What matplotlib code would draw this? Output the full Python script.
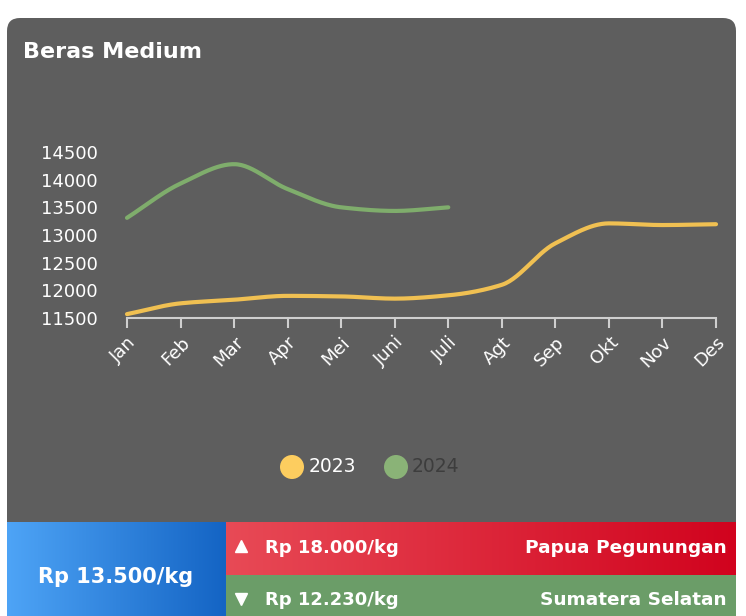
import numpy as np
import matplotlib
matplotlib.use("Agg")
import matplotlib.pyplot as plt
from matplotlib.patches import FancyBboxPatch, Rectangle, Circle

plt.rcParams['font.family'] = ['DejaVu Sans']

# data
bulan = ["Jan", "Feb", "Mar", "Apr", "Mei", "Juni", "Juli", "Agt", "Sep", "Okt", "Nov", "Des"]
harga_2023 = [11570, 11765, 11830, 11900, 11890, 11850, 11910, 12100, 12850, 13210, 13180, 13195]
harga_2024 = [13310, 13930, 14280, 13830, 13500, 13435, 13500]
y_ticks = [11500, 12000, 12500, 13000, 13500, 14000, 14500]

judul = "Beras Medium"
harga_nasional = "Rp 13.500/kg"
harga_tertinggi = "Rp 18.000/kg"
prov_tertinggi = "Papua Pegunungan"
harga_terendah = "Rp 12.230/kg"
prov_terendah = "Sumatera Selatan"

W, H = 746, 616


def monotone(x, y, n=30):
    # kurva halus monoton (Fritsch-Carlson) seperti chart aslinya
    x = np.asarray(x, float)
    y = np.asarray(y, float)
    h = np.diff(x)
    d = np.diff(y) / h
    m = np.zeros_like(y)
    m[0], m[-1] = d[0], d[-1]
    for i in range(1, len(y) - 1):
        if d[i - 1] * d[i] <= 0:
            m[i] = 0
        else:
            m[i] = 3 * (h[i - 1] + h[i]) / ((2 * h[i] + h[i - 1]) / d[i - 1] + (h[i] + 2 * h[i - 1]) / d[i])
    xs, ys = [], []
    for i in range(len(x) - 1):
        t = np.linspace(0, 1, n)
        h00 = 2 * t**3 - 3 * t**2 + 1
        h10 = t**3 - 2 * t**2 + t
        h01 = -2 * t**3 + 3 * t**2
        h11 = t**3 - t**2
        xs.append(x[i] + t * h[i])
        ys.append(h00 * y[i] + h10 * h[i] * m[i] + h01 * y[i + 1] + h11 * h[i] * m[i + 1])
    return np.concatenate(xs), np.concatenate(ys)


fig = plt.figure(figsize=(W / 100, H / 100), dpi=100)
fig.patch.set_facecolor("white")

# latar (koordinat piksel)
bg = fig.add_axes([0, 0, 1, 1])
bg.set_xlim(0, W)
bg.set_ylim(H, 0)
bg.axis("off")

bg.add_patch(FancyBboxPatch((7, 18), 729, 640, boxstyle="round,pad=0,rounding_size=13",
                            facecolor="#5e5e5e", edgecolor="none"))
bg.text(23, 52, judul, color="white", fontsize=16, fontweight="bold", va="center", ha="left")

# kotak bawah dengan gradien
grad = np.linspace(0, 1, 256).reshape(1, -1)
blue = matplotlib.colors.LinearSegmentedColormap.from_list("b", ["#4ea4f6", "#1464c4"])
red = matplotlib.colors.LinearSegmentedColormap.from_list("r", ["#e84a56", "#d1031e"])
bg.imshow(grad, cmap=blue, extent=(7, 226, 616, 522), aspect="auto", zorder=2)
bg.imshow(grad, cmap=red, extent=(226, 736, 575, 522), aspect="auto", zorder=2)
bg.add_patch(Rectangle((226, 575), 510, 41, facecolor="#6b9d68", edgecolor="none", zorder=2))
bg.set_xlim(0, W)
bg.set_ylim(H, 0)

bg.text(116, 577, harga_nasional, color="white", fontsize=15, fontweight="bold",
        ha="center", va="center", zorder=3)
bg.plot([241], [546], marker="^", color="white", markersize=9, zorder=3)
bg.text(265, 548, harga_tertinggi, color="white", fontsize=13, fontweight="bold", va="center", zorder=3)
bg.text(727, 548, prov_tertinggi, color="white", fontsize=13.3, fontweight="bold",
        va="center", ha="right", zorder=3)
bg.plot([241], [599], marker="v", color="white", markersize=9, zorder=3)
bg.text(265, 600, harga_terendah, color="white", fontsize=13, fontweight="bold", va="center", zorder=3)
bg.text(727, 600, prov_terendah, color="white", fontsize=13.3, fontweight="bold",
        va="center", ha="right", zorder=3)

# legenda
bg.add_patch(Circle((292, 467), 12, facecolor="#fdcd5f", edgecolor="none"))
bg.text(309, 467, "2023", color="white", fontsize=13.5, va="center")
bg.add_patch(Circle((396, 467), 12, facecolor="#8ab377", edgecolor="none"))
bg.text(412, 467, "2024", color="#3d3d3d", fontsize=13.5, va="center")

# grafik
x0, x1 = 127, 716
y0, y1 = 318, 152
ax = fig.add_axes([x0 / W, (H - y0) / H, (x1 - x0) / W, (y0 - y1) / H])
ax.set_facecolor("none")
ax.set_xlim(0, len(bulan) - 1)
ax.set_ylim(y_ticks[0], y_ticks[-1])

xa, ya = monotone(range(len(harga_2023)), harga_2023)
ax.plot(xa, ya, color="#f0c052", lw=3, clip_on=False, solid_capstyle="round")
xb, yb = monotone(range(len(harga_2024)), harga_2024)
ax.plot(xb, yb, color="#7fad6c", lw=3, clip_on=False, solid_capstyle="round")

for s in ["top", "right", "left"]:
    ax.spines[s].set_visible(False)
ax.spines["bottom"].set_color("#cfcfcf")
ax.spines["bottom"].set_linewidth(1.5)
ax.set_xticks(range(len(bulan)))
ax.set_xticklabels(bulan, rotation=45, ha="right", rotation_mode="anchor")
ax.tick_params(axis="x", colors="#cfcfcf", length=7, width=1.5, labelcolor="white",
               labelsize=13, pad=4)
ax.set_yticks(y_ticks)
ax.set_yticklabels([str(v) for v in y_ticks])
ax.tick_params(axis="y", length=0, labelcolor="white", labelsize=13, pad=21)

fig.savefig("out.png", dpi=100)
